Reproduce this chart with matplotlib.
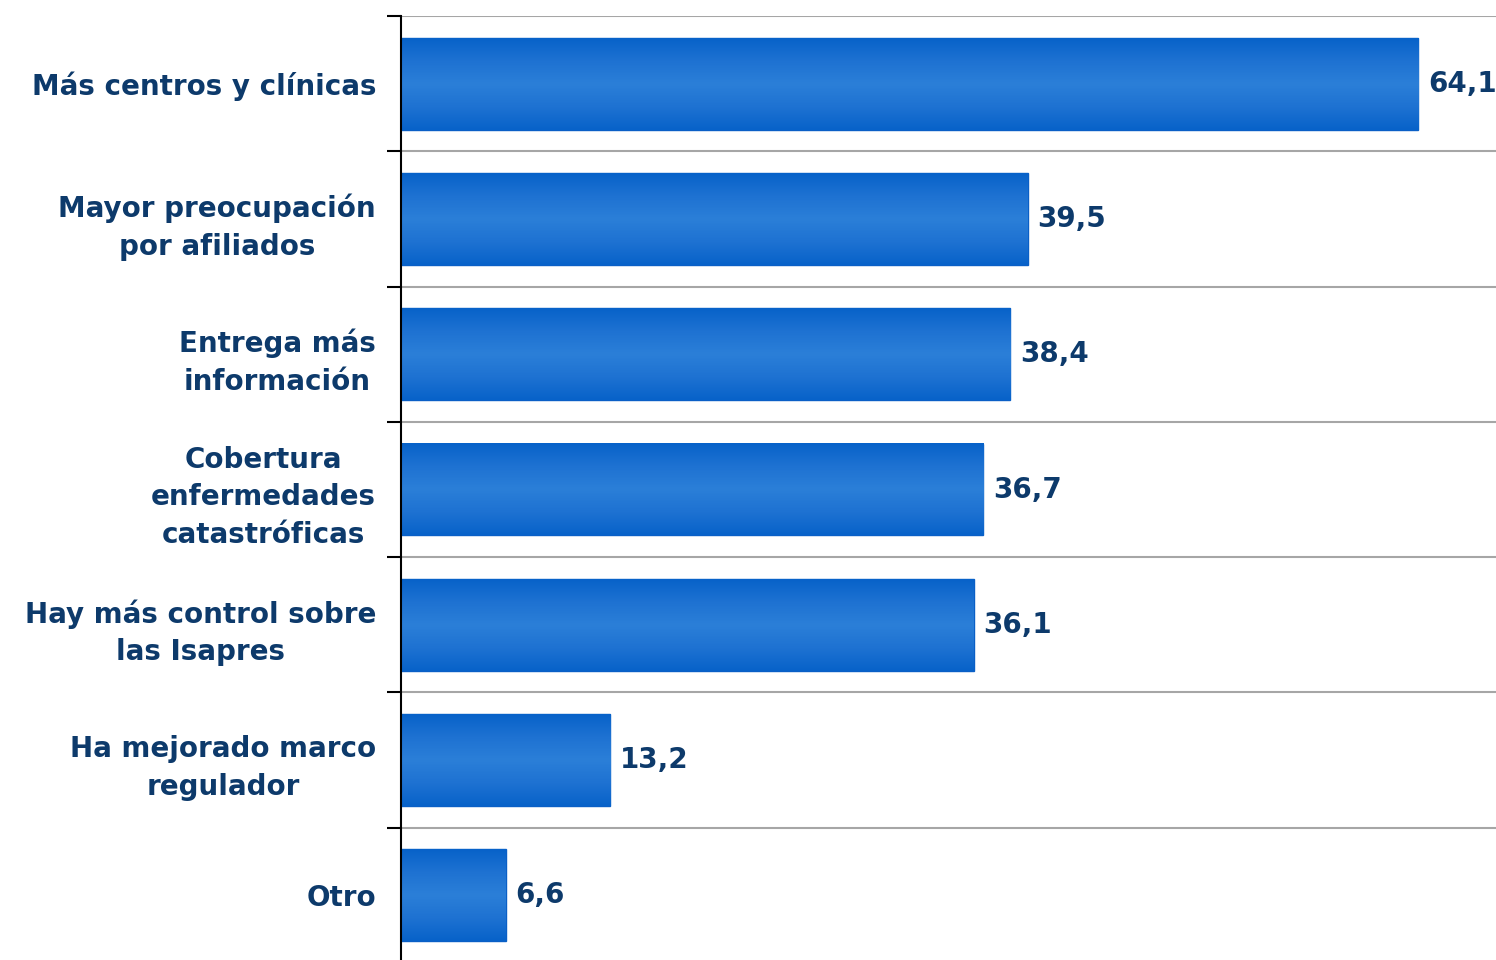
import numpy as np
import matplotlib
matplotlib.use("Agg")
import matplotlib.pyplot as plt
from matplotlib.colors import LinearSegmentedColormap

# data
categories = [
    "Más centros y clínicas",
    "Mayor preocupación\npor afiliados",
    "Entrega más\ninformación",
    "Cobertura\nenfermedades\ncatastróficas",
    "Hay más control sobre\nlas Isapres",
    "Ha mejorado marco\nregulador",
    "Otro",
]
values = [64.1, 39.5, 38.4, 36.7, 36.1, 13.2, 6.6]
value_labels = ["64,1", "39,5", "38,4", "36,7", "36,1", "13,2", "6,6"]

text_color = "#0D3A6B"
plt.rcParams["font.family"] = ["DejaVu Sans"]

fig = plt.figure(figsize=(14.96, 9.6), dpi=100)
ax = fig.add_axes([401 / 1496, -3 / 960, 1095 / 1496, 947 / 960])

n = len(categories)
ypos = np.arange(n)
bar_h = 0.68

# bar gradient: darker edges, lighter middle
cmap = LinearSegmentedColormap.from_list(
    "bar", ["#0762C9", "#1E72D2", "#2B7FD8", "#1E72D2", "#0762C9"])
grad = np.linspace(0, 1, 256).reshape(-1, 1)

bars = ax.barh(ypos, values, height=bar_h, color="#1A6FD0",
               edgecolor="#0A5FC6", linewidth=1, zorder=2)
for b in bars:
    x0, y0, w, h = b.get_x(), b.get_y(), b.get_width(), b.get_height()
    ax.imshow(grad, cmap=cmap, aspect="auto", extent=[x0, x0 + w, y0 + h, y0],
              zorder=3, interpolation="bicubic")

for y, v, lab in zip(ypos, values, value_labels):
    ax.text(v + 0.6, y, lab, va="center", ha="left", fontsize=20,
            fontweight="bold", color=text_color)

ax.set_xlim(0, 69)
ax.set_ylim(n - 0.5, -0.5)

ax.set_yticks(ypos)
ax.set_yticklabels(categories, fontsize=20, fontweight="bold",
                   color=text_color, multialignment="center",
                   linespacing=1.45)
ax.tick_params(axis="y", which="major", length=0, pad=18)
ax.set_yticks(np.arange(-0.5, n, 1), minor=True)
ax.tick_params(axis="y", which="minor", length=10, width=1.5, color="black")
ax.grid(axis="y", which="minor", color="#A6A6A6", linewidth=1.5, zorder=1)
ax.set_xticks([])

for s in ["top", "right", "bottom"]:
    ax.spines[s].set_visible(False)
ax.spines["left"].set_linewidth(1.5)
ax.spines["left"].set_zorder(5)

fig.savefig("out.png", dpi=100)
